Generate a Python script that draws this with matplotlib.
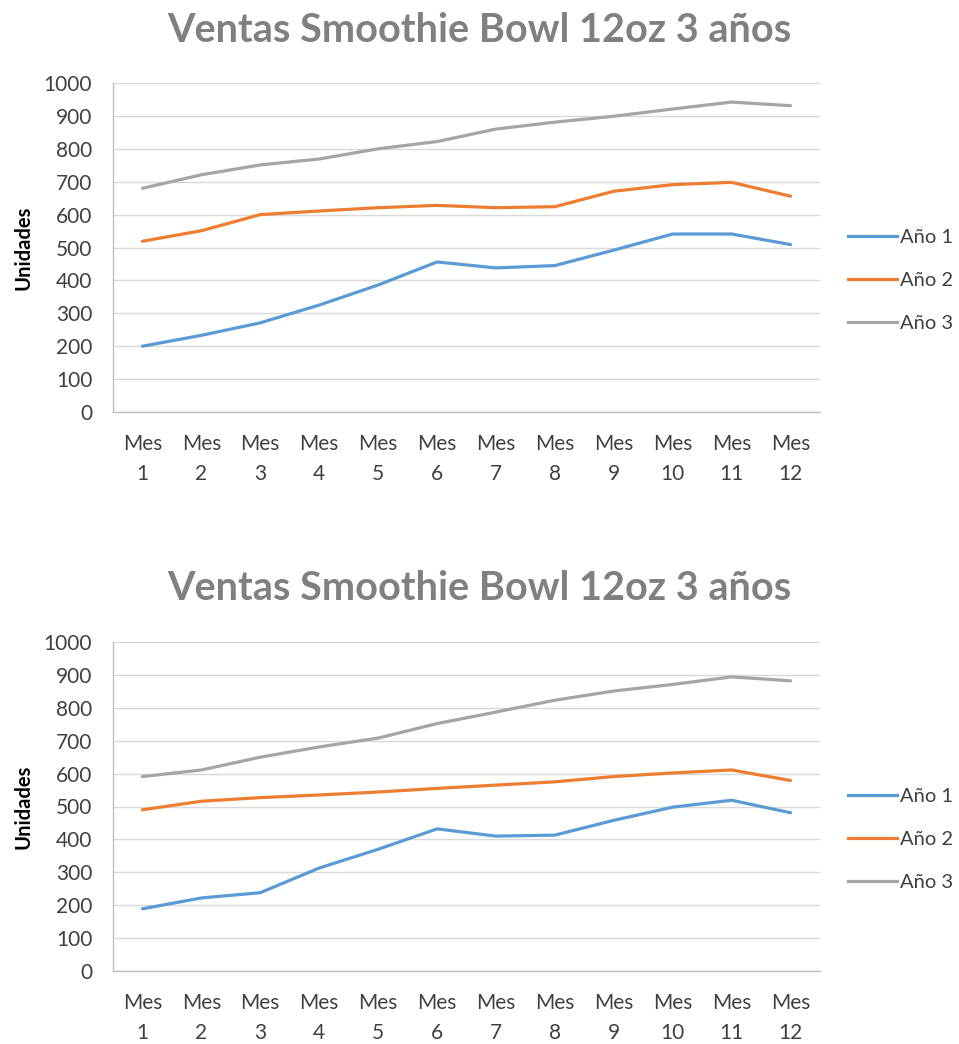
import matplotlib
matplotlib.use("Agg")
import matplotlib.pyplot as plt
from matplotlib.lines import Line2D

plt.rcParams['font.family'] = ['Lato', 'DejaVu Sans']

months = [f"Mes\n{i}" for i in range(1, 13)]
series_names = ["Año 1", "Año 2", "Año 3"]
title = "Ventas Smoothie Bowl 12oz 3 años"
ylabel = "Unidades"

# Scenario A (upper chart)
top_year1 = [200, 233, 271, 325, 386, 456, 438, 445, 492, 541, 541, 509]
top_year2 = [519, 551, 600, 611, 621, 628, 621, 624, 671, 691, 698, 656]
top_year3 = [680, 721, 751, 769, 800, 822, 860, 881, 899, 921, 942, 931]

# Scenario B (lower chart)
bot_year1 = [189, 222, 238, 313, 370, 432, 410, 413, 458, 498, 519, 481]
bot_year2 = [490, 516, 527, 535, 544, 555, 565, 575, 591, 602, 611, 579]
bot_year3 = [591, 611, 650, 681, 708, 752, 787, 823, 851, 871, 894, 882]

colors = ["#5b9bd5", "#ed7d31", "#a5a5a5"]
text_color = "#404040"
title_color = "#808080"
grid_color = "#d9d9d9"
axis_color = "#bfbfbf"

W, H = 959, 1044
fig = plt.figure(figsize=(W / 100, H / 100), dpi=100)


def draw_chart(top_px, data):
    left, right, bottom_px = 113, 820, top_px + 329
    ax = fig.add_axes([left / W, 1 - bottom_px / H, (right - left) / W, 329 / H])
    x = list(range(1, 13))
    for vals, c, name in zip(data, colors, series_names):
        ax.plot(x, vals, color=c, lw=2.3, solid_capstyle='round',
                solid_joinstyle='round', label=name)
    ax.set_xlim(0.5, 12.5)
    ax.set_ylim(0, 1000)
    ax.set_yticks(range(0, 1001, 100))
    ax.set_xticks(x)
    ax.set_xticklabels(months, linespacing=1.6)
    ax.tick_params(axis='both', length=0, labelsize=15, colors=text_color)
    ax.tick_params(axis='x', pad=16)
    ax.tick_params(axis='y', pad=15)
    ax.yaxis.grid(True, color=grid_color, lw=1)
    ax.set_axisbelow(True)
    for s in ("top", "right"):
        ax.spines[s].set_visible(False)
    for s in ("left", "bottom"):
        ax.spines[s].set_color(axis_color)
        ax.spines[s].set_linewidth(1)
    ax.set_ylabel(ylabel, fontsize=14.5, fontweight='bold', color='black')
    ax.yaxis.set_label_coords(-0.113, 0.5)
    fig.text(479 / W, 1 - (top_px - 53) / H, title, ha='center', va='center',
             fontsize=28.5, fontweight='bold', color=title_color)
    handles = [Line2D([], [], color=c, lw=2.3) for c in colors]
    ax.legend(handles, series_names, loc='center left',
              bbox_to_anchor=((848 - left) / (right - left), 0.40),
              borderaxespad=0, borderpad=0, frameon=False, fontsize=14.5,
              handlelength=2.45, handletextpad=0.15, labelspacing=1.3,
              labelcolor=text_color)
    return ax


draw_chart(83, [top_year1, top_year2, top_year3])
draw_chart(642, [bot_year1, bot_year2, bot_year3])

fig.savefig("out.png", dpi=100, facecolor="white")
